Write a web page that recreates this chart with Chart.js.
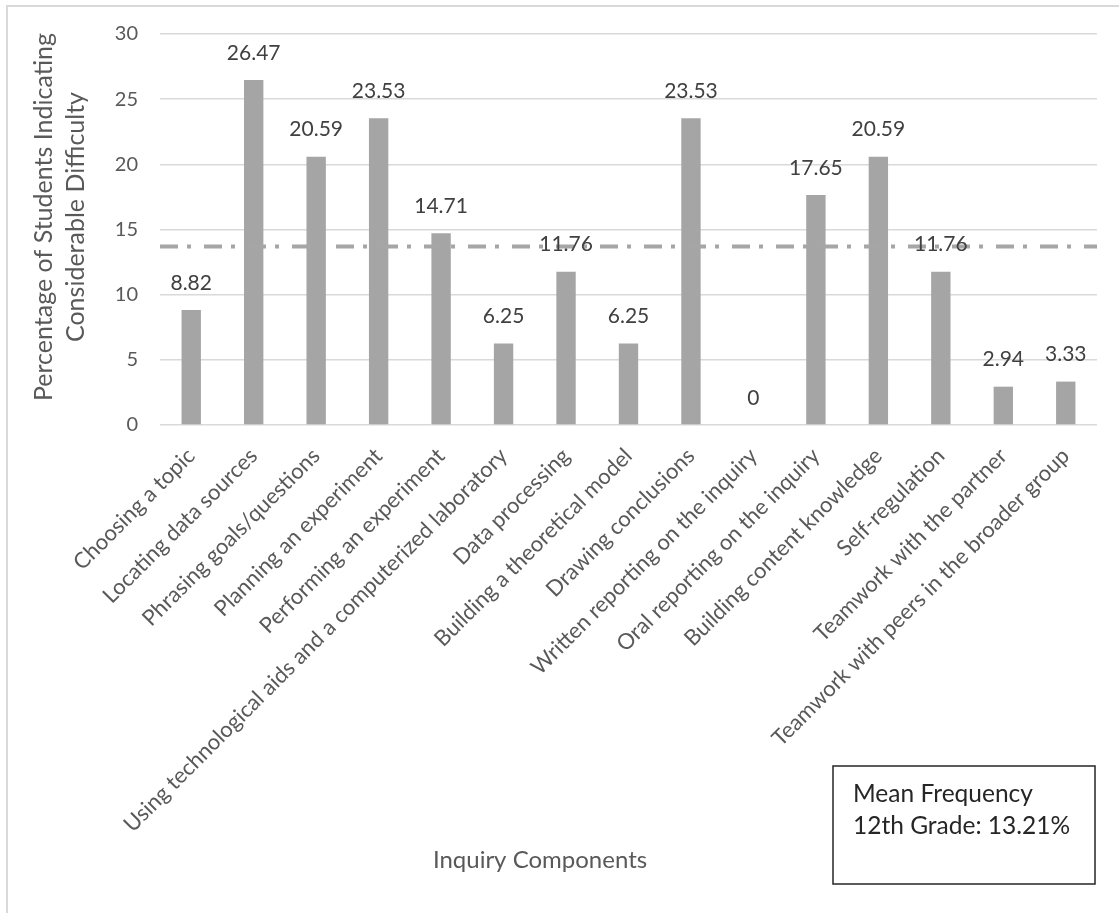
<!DOCTYPE html>
<html>
<head>
<meta charset="utf-8">
<script src="https://cdn.jsdelivr.net/npm/chart.js@4.4.1/dist/chart.umd.min.js"></script>
<style>
  html, body { margin: 0; padding: 0; background: #fff; overflow: hidden; }
  canvas { display: block; }
</style>
</head>
<body>
<canvas id="inquiry-chart" width="1119" height="913"></canvas>
<script>
const components = [
    'Choosing a topic',
    'Locating data sources',
    'Phrasing goals/questions',
    'Planning an experiment',
    'Performing an experiment',
    'Using technological aids and a computerized laboratory',
    'Data processing',
    'Building a theoretical model',
    'Drawing conclusions',
    'Written reporting on the inquiry',
    'Oral reporting on the inquiry',
    'Building content knowledge',
    'Self-regulation',
    'Teamwork with the partner',
    'Teamwork with peers in the broader group'
];
const difficultyPct = [8.82, 26.47, 20.59, 23.53, 14.71, 6.25, 11.76, 6.25, 23.53, 0, 17.65, 20.59, 11.76, 2.94, 3.33];
const yTicks = [0, 5, 10, 15, 20, 25, 30];
const meanLineAt = 13.7;
const yTitle = ['Percentage of Students Indicating', 'Considerable Difficulty'];
const xTitle = 'Inquiry Components';
const noteLines = ['Mean Frequency', '12th Grade: 13.21%'];

const FONT = 'Lato, "Open Sans", sans-serif';
const TEXT = '#595959';

// extra drawing: frame, mean line, value labels, axis titles, note box
const extras = {
    id: 'extras',
    beforeDraw(chart) {
        const ctx = chart.ctx;
        ctx.save();
        ctx.strokeStyle = '#d9d9d9';
        ctx.lineWidth = 2;
        ctx.beginPath();
        ctx.moveTo(7, 913);
        ctx.lineTo(7, 6);
        ctx.lineTo(1119, 6);
        ctx.stroke();
        ctx.restore();
    },
    afterDatasetsDraw(chart) {
        const ctx = chart.ctx;
        const area = chart.chartArea;
        const y = chart.scales.y;
        ctx.save();

        // mean line
        const my = y.getPixelForValue(meanLineAt);
        ctx.strokeStyle = '#a6a6a6';
        ctx.lineWidth = 4;
        ctx.setLineDash([18, 9, 4, 13]);
        ctx.beginPath();
        ctx.moveTo(area.left, my);
        ctx.lineTo(area.right, my);
        ctx.stroke();
        ctx.setLineDash([]);

        // value labels
        ctx.fillStyle = '#404040';
        ctx.font = '21px ' + FONT;
        ctx.textAlign = 'center';
        ctx.textBaseline = 'middle';
        chart.getDatasetMeta(0).data.forEach((bar, i) => {
            ctx.fillText(String(difficultyPct[i]), bar.x, bar.y - 27);
        });

        // y title
        ctx.fillStyle = TEXT;
        ctx.font = '25px ' + FONT;
        ctx.save();
        ctx.translate(60, 217);
        ctx.rotate(-Math.PI / 2);
        ctx.fillText(yTitle[0], 0, -16);
        ctx.fillText(yTitle[1], 0, 16);
        ctx.restore();

        // x title
        ctx.font = '24px ' + FONT;
        ctx.fillText(xTitle, 540, 860);

        // note box
        ctx.strokeStyle = '#262626';
        ctx.lineWidth = 1.5;
        ctx.strokeRect(833, 766, 262, 118);
        ctx.fillStyle = '#262626';
        ctx.font = '24.5px ' + FONT;
        ctx.textAlign = 'left';
        ctx.fillText(noteLines[0], 853, 794);
        ctx.fillText(noteLines[1], 853, 826);
        ctx.restore();
    }
};

new Chart(
    document.getElementById('inquiry-chart'),
    {
        type: 'bar',
        data: {
            labels: components,
            datasets: [
                {
                    label: 'Percentage',
                    data: difficultyPct,
                    backgroundColor: '#a5a5a5',
                    barPercentage: 0.31,
                    categoryPercentage: 1.0
                }
            ]
        },
        options: {
            responsive: false,
            animation: false,
            devicePixelRatio: 1,
            layout: { padding: { top: 33, right: 22, left: 0, bottom: 0 } },
            plugins: {
                legend: { display: false },
                tooltip: { enabled: false }
            },
            scales: {
                x: {
                    grid: { display: false, drawTicks: false },
                    border: { display: false },
                    ticks: {
                        autoSkip: false,
                        minRotation: 45,
                        maxRotation: 45,
                        padding: 18,
                        color: TEXT,
                        font: { family: FONT, size: 22 }
                    },
                    afterFit(scale) { scale.height = 488; }
                },
                y: {
                    min: 0,
                    max: 30,
                    afterBuildTicks(scale) { scale.ticks = yTicks.map(v => ({ value: v })); },
                    grid: { color: '#d9d9d9', lineWidth: 1.5, drawTicks: false },
                    border: { display: false },
                    ticks: {
                        padding: 22,
                        color: TEXT,
                        font: { family: FONT, size: 20 }
                    },
                    afterFit(scale) { scale.width = 160; }
                }
            }
        },
        plugins: [extras]
    }
);
</script>
</body>
</html>
